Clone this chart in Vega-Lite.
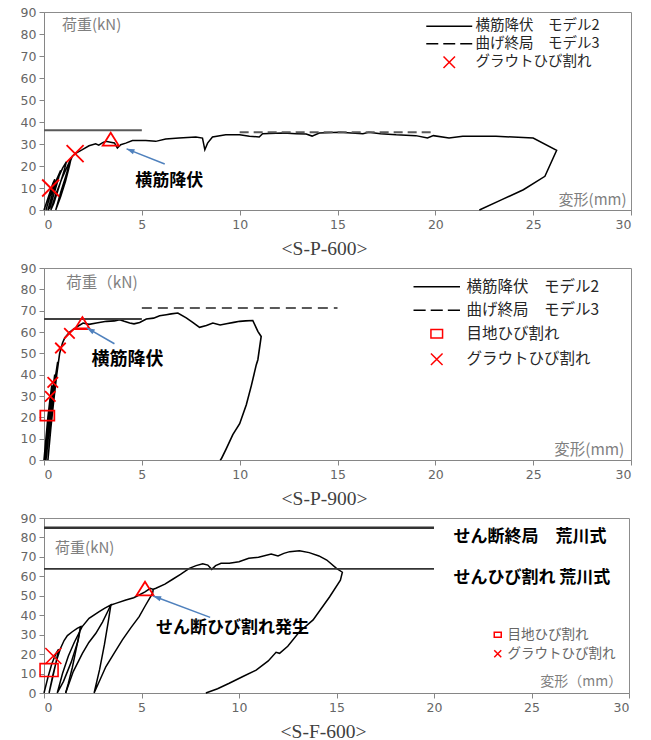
{
  "$schema": "https://vega.github.io/schema/vega-lite/v6.json",
  "background": "white",
  "padding": {"left": 19, "top": 5, "right": 5, "bottom": 0},
  "spacing": 2,
  "config": {
    "view": {"stroke": "#8c8c8c", "strokeWidth": 1},
    "axis": {"grid": false, "title": null, "labelFont": "DejaVu Sans", "labelFontSize": 12.5, "labelColor": "#666666", "domainColor": "#868686", "tickColor": "#868686", "tickSize": 5, "labelPadding": 3},
    "legend": {"orient": "none", "padding": 0, "title": null, "labelFont": "Noto Sans CJK JP", "labelColor": "#262626"},
    "title": {"font": "Liberation Serif", "fontSize": 19.5, "fontWeight": "normal", "color": "#404040", "orient": "bottom", "anchor": "middle", "dx": -13, "offset": 9}
  },
  "resolve": {"scale": {"x": "independent", "y": "independent", "color": "independent", "shape": "independent"}, "legend": {"color": "independent", "shape": "independent"}},
  "datasets": {
    "c1": [
      {"x":0,"y":0},{"x":0.15,"y":4},{"x":0.3,"y":8},{"x":0.45,"y":12},{"x":0.55,"y":14},{"x":0.4,"y":9},{"x":0.2,"y":3},{"x":0.1,"y":0},
      {"x":0.3,"y":6},{"x":0.5,"y":11},{"x":0.7,"y":15},{"x":0.85,"y":18},{"x":0.7,"y":13},{"x":0.5,"y":7},{"x":0.3,"y":1},{"x":0.2,"y":0},
      {"x":0.45,"y":8},{"x":0.7,"y":14},{"x":0.95,"y":19},{"x":1.15,"y":22},{"x":1.0,"y":17},{"x":0.75,"y":10},{"x":0.5,"y":3},{"x":0.35,"y":0},
      {"x":0.6,"y":7},{"x":0.9,"y":14},{"x":1.2,"y":20},{"x":1.4,"y":24},{"x":1.3,"y":20},{"x":1.1,"y":13},{"x":0.85,"y":6},{"x":0.6,"y":0},
      {"x":0.85,"y":8},{"x":1.1,"y":15},{"x":1.3,"y":21},{"x":1.45,"y":24.5},{"x":1.6,"y":25.6},{"x":1.96,"y":27.4},{"x":2.3,"y":29.2},{"x":2.64,"y":30.1},{"x":2.8,"y":29.5},{"x":3.0,"y":30.6},{"x":3.16,"y":31.2},{"x":3.4,"y":30.8},{"x":3.6,"y":30.5},{"x":3.75,"y":28.2},{"x":3.92,"y":29.7},{"x":4.18,"y":30.4},{"x":4.52,"y":31.6},{"x":5.2,"y":31.6},{"x":5.71,"y":31.2},{"x":6.22,"y":32.3},{"x":6.9,"y":32.7},{"x":7.76,"y":33.2},{"x":8.1,"y":32.7},{"x":8.22,"y":27.4},{"x":8.36,"y":30.4},{"x":8.61,"y":33.2},{"x":9.29,"y":34.2},{"x":10.0,"y":34.2},{"x":10.5,"y":33.5},{"x":11.0,"y":33.2},{"x":11.17,"y":34.7},{"x":12.2,"y":35},{"x":12.9,"y":34.7},{"x":13.4,"y":34.5},{"x":13.7,"y":33.6},{"x":14.07,"y":35},{"x":15.1,"y":35.3},{"x":16.3,"y":34.7},{"x":16.6,"y":35.3},{"x":17.2,"y":34.7},{"x":18.0,"y":34.2},{"x":19.0,"y":33.8},{"x":19.6,"y":32.7},{"x":19.9,"y":33.8},{"x":20.7,"y":32.7},{"x":21.4,"y":33.5},{"x":23.1,"y":33.5},{"x":25.0,"y":32.7},{"x":26.2,"y":27.1},{"x":25.6,"y":15.3},{"x":24.5,"y":9.2},{"x":23.4,"y":4.7},{"x":22.25,"y":0}
    ],
    "r1s": [{"x":0,"x2":5,"y":36.2}],
    "r1d": [{"x":10,"x2":19.8,"y":35.3}],
    "m1x": [{"x":0.34,"y":10,"series":"グラウトひび割れ"},{"x":1.59,"y":25.6,"series":"グラウトひび割れ"}],
    "t1tri": [{"x":3.41,"y":32}],
    "a1": [{"x":6.17,"y":20.9,"x2":4.22,"y2":27.8}],
    "h1": [{"x":4.22,"y":27.8}],
    "l1gray": [{"x":0.92,"y":84.2,"t":"荷重(kN)"}],
    "l1right": [{"x":29.77,"y":4.7,"t":"変形(mm)"}],
    "l1bold": [{"x":6.4,"y":13,"t":"横筋降伏"}],
    "c2": [
      {"x":0,"y":0},{"x":0.1,"y":10},{"x":0.2,"y":20},{"x":0.3,"y":28},{"x":0.4,"y":35},{"x":0.3,"y":28},{"x":0.15,"y":12},{"x":0.05,"y":0},
      {"x":0.15,"y":10},{"x":0.3,"y":22},{"x":0.45,"y":33},{"x":0.55,"y":40},{"x":0.45,"y":32},{"x":0.3,"y":18},{"x":0.15,"y":4},{"x":0.1,"y":0},
      {"x":0.25,"y":14},{"x":0.4,"y":26},{"x":0.55,"y":37},{"x":0.7,"y":46},{"x":0.6,"y":38},{"x":0.45,"y":25},{"x":0.3,"y":10},{"x":0.2,"y":0},
      {"x":0.35,"y":15},{"x":0.5,"y":28},{"x":0.65,"y":40},{"x":0.8,"y":50},{"x":0.95,"y":55},{"x":1.06,"y":57.2},{"x":1.3,"y":59.8},{"x":1.48,"y":61.1},{"x":1.75,"y":62.8},{"x":2.0,"y":64.2},{"x":2.3,"y":63.6},{"x":2.68,"y":64.2},{"x":3.19,"y":65},{"x":3.6,"y":65.2},{"x":3.87,"y":65.8},{"x":4.1,"y":65},{"x":4.38,"y":64.2},{"x":4.6,"y":63.8},{"x":4.89,"y":64.5},{"x":5.23,"y":66.1},{"x":5.6,"y":66.5},{"x":5.91,"y":67.6},{"x":6.25,"y":68.1},{"x":6.5,"y":68.5},{"x":6.84,"y":68.9},{"x":7.27,"y":66.6},{"x":7.6,"y":64.5},{"x":7.95,"y":62.2},{"x":8.3,"y":63},{"x":8.63,"y":64.2},{"x":9.0,"y":63.3},{"x":9.32,"y":63.9},{"x":9.7,"y":64.5},{"x":10.0,"y":65},{"x":10.3,"y":65.2},{"x":10.67,"y":65.4},{"x":10.93,"y":60.3},{"x":11.1,"y":57.9},{"x":10.93,"y":47},{"x":10.85,"y":44.7},{"x":10.6,"y":35},{"x":10.34,"y":25.9},{"x":10.0,"y":17},{"x":9.65,"y":11.9},{"x":9.3,"y":5},{"x":9.06,"y":0.5},{"x":9.0,"y":0}
    ],
    "r2s": [{"x":0,"x2":5,"y":66.1}],
    "r2d": [{"x":5,"x2":15,"y":71.3}],
    "r2red": [{"x":1.5,"x2":2.25,"y":61.3}],
    "m2x": [{"x":0.32,"y":29.8,"series":"グラウトひび割れ"},{"x":0.45,"y":36.4,"series":"グラウトひび割れ"},{"x":0.84,"y":52.5,"series":"グラウトひび割れ"},{"x":1.3,"y":59.4,"series":"グラウトひび割れ"}],
    "m2s": [{"x":0.17,"y":20.8,"series":"目地ひび割れ"}],
    "t2tri": [{"x":1.96,"y":64.2}],
    "a2": [{"x":3.6,"y":54.5,"x2":2.19,"y2":61.9}],
    "h2": [{"x":2.19,"y":61.9}],
    "l2gray": [{"x":1.14,"y":83,"t":"荷重（kN)"}],
    "l2right": [{"x":29.66,"y":4.8,"t":"変形(mm)"}],
    "l2bold": [{"x":4.27,"y":47,"t":"横筋降伏"}],
    "c3": [
      {"seg":"a","x":0,"y":0},{"seg":"a","x":0.2,"y":8},{"seg":"a","x":0.4,"y":15},{"seg":"a","x":0.6,"y":20},{"seg":"a","x":0.75,"y":22.5},{"seg":"a","x":0.6,"y":15},{"seg":"a","x":0.4,"y":6},{"seg":"a","x":0.26,"y":0},
      {"seg":"a","x":0.45,"y":9},{"seg":"a","x":0.65,"y":17},{"seg":"a","x":0.85,"y":23},{"seg":"a","x":1.03,"y":27},{"seg":"a","x":1.2,"y":29.5},{"seg":"a","x":1.45,"y":31.5},{"seg":"a","x":1.7,"y":33.2},{"seg":"a","x":1.88,"y":34.1},
      {"seg":"a","x":1.75,"y":27},{"seg":"a","x":1.4,"y":16},{"seg":"a","x":1.0,"y":6},{"seg":"a","x":0.68,"y":0},
      {"seg":"a","x":0.95,"y":10},{"seg":"a","x":1.25,"y":19},{"seg":"a","x":1.55,"y":26},{"seg":"a","x":1.8,"y":31},{"seg":"a","x":1.95,"y":34},{"seg":"a","x":2.31,"y":38.4},{"seg":"a","x":2.83,"y":41.8},{"seg":"a","x":3.1,"y":43.5},{"seg":"a","x":3.43,"y":45.3},
      {"seg":"a","x":3.3,"y":37},{"seg":"a","x":3.1,"y":25},{"seg":"a","x":2.85,"y":12},{"seg":"a","x":2.57,"y":0},
      {"seg":"a","x":3.17,"y":13.5},{"seg":"a","x":3.6,"y":20.5},{"seg":"a","x":4.02,"y":27.3},{"seg":"a","x":4.45,"y":33.5},{"seg":"a","x":4.88,"y":39.3},{"seg":"a","x":5.2,"y":45},{"seg":"a","x":5.57,"y":51.3},{"seg":"a","x":5.6,"y":53.3},{"seg":"a","x":5.74,"y":53.9},
      {"seg":"a","x":6.2,"y":56},{"seg":"a","x":6.6,"y":58.5},{"seg":"a","x":7.0,"y":61},{"seg":"a","x":7.45,"y":64.1},{"seg":"a","x":7.8,"y":65.5},{"seg":"a","x":8.14,"y":66.5},{"seg":"a","x":8.4,"y":65.8},{"seg":"a","x":8.6,"y":63.6},{"seg":"a","x":8.8,"y":65.5},{"seg":"a","x":9.08,"y":66.7},{"seg":"a","x":9.5,"y":66.7},{"seg":"a","x":10.0,"y":67.5},{"seg":"a","x":10.5,"y":69.3},{"seg":"a","x":11.0,"y":69.8},{"seg":"a","x":11.65,"y":71.5},{"seg":"a","x":12.0,"y":70.5},{"seg":"a","x":12.3,"y":71.8},{"seg":"a","x":12.6,"y":72.7},{"seg":"a","x":13.1,"y":73.2},{"seg":"a","x":13.6,"y":72.2},{"seg":"a","x":14.1,"y":70.5},{"seg":"a","x":14.5,"y":68.4},{"seg":"a","x":15.0,"y":64.1},{"seg":"a","x":15.3,"y":62.1},{"seg":"a","x":15.2,"y":58},{"seg":"a","x":14.65,"y":49.5},{"seg":"a","x":13.8,"y":37.6},{"seg":"a","x":13.1,"y":31.5},{"seg":"a","x":12.5,"y":24},{"seg":"a","x":12.08,"y":20.4},{"seg":"a","x":11.9,"y":20.9},{"seg":"a","x":11.5,"y":16.5},{"seg":"a","x":10.88,"y":11.8},{"seg":"a","x":10.2,"y":8.5},{"seg":"a","x":9.5,"y":5},{"seg":"a","x":8.9,"y":2.2},{"seg":"a","x":8.3,"y":0},
      {"seg":"b","x":1.11,"y":0},{"seg":"b","x":1.5,"y":11},{"seg":"b","x":1.97,"y":20.4},{"seg":"b","x":2.3,"y":26},{"seg":"b","x":2.66,"y":30.7},{"seg":"b","x":3.0,"y":36.5},{"seg":"b","x":3.26,"y":41.8},{"seg":"b","x":3.43,"y":45.3},
      {"seg":"c","x":1.88,"y":34.1},{"seg":"c","x":1.7,"y":25},{"seg":"c","x":1.45,"y":13},{"seg":"c","x":1.25,"y":5},{"seg":"c","x":1.11,"y":0},
      {"seg":"d","x":3.43,"y":45.3},{"seg":"d","x":3.68,"y":46.1},{"seg":"d","x":4.2,"y":47.8},{"seg":"d","x":4.6,"y":49},{"seg":"d","x":4.88,"y":50.4},{"seg":"d","x":5.18,"y":52},{"seg":"d","x":5.45,"y":53.8},{"seg":"d","x":5.6,"y":53.3}
    ],
    "r3a": [{"x":0,"x2":20,"y":85}],
    "r3b": [{"x":0,"x2":20,"y":63.8}],
    "m3x": [{"x":0.48,"y":19,"series":"グラウトひび割れ"}],
    "m3s": [{"x":0.26,"y":11.8,"series":"目地ひび割れ"}],
    "t3tri": [{"x":5.18,"y":53.5}],
    "a3": [{"x":8.52,"y":38.9,"x2":5.6,"y2":49.9}],
    "h3": [{"x":5.6,"y":49.9}],
    "l3gray": [{"x":0.57,"y":74.7,"t":"荷重(kN)"}],
    "l3right": [{"x":29.65,"y":5.5,"t":"変形（mm）"}],
    "l3bold": [{"x":5.74,"y":33.6,"t":"せん断ひび割れ発生"},{"x":21.0,"y":80.4,"t":"せん断終局　荒川式"},{"x":21.0,"y":59.3,"t":"せんひび割れ 荒川式"}]
  },
  "vconcat": [
    {
      "width": 587, "height": 198,
      "title": {"text": "<S-P-600>"},
      "encoding": {
        "x": {"field": "x", "type": "quantitative", "scale": {"domain": [0, 30], "nice": false}, "axis": {"values": [0,5,10,15,20,25,30], "labelOverlap": false}},
        "y": {"field": "y", "type": "quantitative", "scale": {"domain": [0, 90], "nice": false}, "axis": {"values": [0,10,20,30,40,50,60,70,80,90], "labelOverlap": false}}
      },
      "layer": [
        {"data": {"name": "c1"}, "mark": {"type": "line", "color": "#000000", "strokeWidth": 1.5},
         "encoding": {"order": {"value": null}}},
        {"data": {"name": "r1s"}, "mark": {"type": "rule", "color": "#595959", "strokeWidth": 2},
         "encoding": {"x2": {"field": "x2"}}},
        {"data": {"name": "r1d"}, "mark": {"type": "rule", "color": "#595959", "strokeWidth": 2, "strokeDash": [9, 5]},
         "encoding": {"x2": {"field": "x2"}}},
        {"data": {"name": "m1x"}, "mark": {"type": "point", "filled": false, "size": 289, "strokeWidth": 1.8, "opacity": 1},
         "encoding": {
                      "shape": {"field": "series", "type": "nominal", "scale": {"domain": ["横筋降伏　モデル2", "曲げ終局　モデル3", "グラウトひび割れ"], "range": ["M-4,0L4,0", "M-4,0L-1.91,0M-1.04,0L1.04,0M1.91,0L4,0", "M-1,-1L1,1M-1,1L1,-1"]},
                                "legend": {"legendX": 398, "legendY": 7, "labelFontSize": 14.5, "symbolSize": 132, "labelOffset": 19, "rowPadding": 2.5}},
                      "color": {"field": "series", "type": "nominal", "scale": {"domain": ["横筋降伏　モデル2", "曲げ終局　モデル3", "グラウトひび割れ"], "range": ["#000000", "#000000", "#ff0000"]},
                                "legend": {"legendX": 398, "legendY": 7, "labelFontSize": 14.5, "symbolSize": 132, "labelOffset": 19, "rowPadding": 2.5}}}},
        {"data": {"name": "t1tri"}, "mark": {"type": "point", "filled": false, "shape": "M0,-0.85L1,0.75L-1,0.75Z", "size": 256, "strokeWidth": 1.8, "color": "#ff0000", "opacity": 1}},
        {"data": {"name": "a1"}, "mark": {"type": "rule", "color": "#4f81bd", "strokeWidth": 1.5},
         "encoding": {"x2": {"field": "x2"}, "y2": {"field": "y2"}}},
        {"data": {"name": "h1"}, "mark": {"type": "point", "filled": true, "shape": "M0,0L0.6,1.8L-0.6,1.8Z", "size": 78, "angle": 292, "color": "#4f81bd", "opacity": 1}},
        {"data": {"name": "l1gray"}, "mark": {"type": "text", "align": "left", "baseline": "middle", "font": "Noto Sans CJK JP", "fontSize": 15, "color": "#7f7f7f"},
         "encoding": {"text": {"field": "t"}}},
        {"data": {"name": "l1right"}, "mark": {"type": "text", "align": "right", "baseline": "middle", "font": "Noto Sans CJK JP", "fontSize": 15, "color": "#7f7f7f"},
         "encoding": {"text": {"field": "t"}}},
        {"data": {"name": "l1bold"}, "mark": {"type": "text", "align": "center", "baseline": "middle", "font": "Noto Sans CJK JP", "fontSize": 17, "fontWeight": "bold", "color": "#000000"},
         "encoding": {"text": {"field": "t"}}}
      ]
    },
    {
      "width": 587, "height": 192,
      "title": {"text": "<S-P-900>"},
      "encoding": {
        "x": {"field": "x", "type": "quantitative", "scale": {"domain": [0, 30], "nice": false}, "axis": {"values": [0,5,10,15,20,25,30], "labelOverlap": false}},
        "y": {"field": "y", "type": "quantitative", "scale": {"domain": [0, 90], "nice": false}, "axis": {"values": [0,10,20,30,40,50,60,70,80,90], "labelOverlap": false}}
      },
      "layer": [
        {"data": {"name": "c2"}, "mark": {"type": "line", "color": "#000000", "strokeWidth": 1.6},
         "encoding": {"order": {"value": null}}},
        {"data": {"name": "r2s"}, "mark": {"type": "rule", "color": "#404040", "strokeWidth": 1.8},
         "encoding": {"x2": {"field": "x2"}}},
        {"data": {"name": "r2d"}, "mark": {"type": "rule", "color": "#595959", "strokeWidth": 2, "strokeDash": [10, 6]},
         "encoding": {"x2": {"field": "x2"}}},
        {"data": {"name": "r2red"}, "mark": {"type": "rule", "color": "#ff0000", "strokeWidth": 1.5},
         "encoding": {"x2": {"field": "x2"}}},
        {"data": {"name": "m2x"}, "mark": {"type": "point", "filled": false, "size": 110, "strokeWidth": 1.8, "opacity": 1},
         "encoding": {
                      "shape": {"field": "series", "type": "nominal", "scale": {"domain": ["横筋降伏　モデル2", "曲げ終局　モデル3", "目地ひび割れ", "グラウトひび割れ"], "range": ["M-4,0L4,0", "M-4,0L-1.91,0M-1.04,0L1.04,0M1.91,0L4,0", "M-1,-0.72L1,-0.72L1,0.72L-1,0.72Z", "M-1,-1L1,1M-1,1L1,-1"]},
                                "legend": {"legendX": 385, "legendY": 11, "labelFontSize": 15.5, "symbolSize": 135, "labelOffset": 22, "rowPadding": 6.5}},
                      "color": {"field": "series", "type": "nominal", "scale": {"domain": ["横筋降伏　モデル2", "曲げ終局　モデル3", "目地ひび割れ", "グラウトひび割れ"], "range": ["#000000", "#000000", "#ff0000", "#ff0000"]},
                                "legend": {"legendX": 385, "legendY": 11, "labelFontSize": 15.5, "symbolSize": 135, "labelOffset": 22, "rowPadding": 6.5}}}},
        {"data": {"name": "m2s"}, "mark": {"type": "point", "filled": false, "size": 196, "strokeWidth": 1.8, "opacity": 1},
         "encoding": {"shape": {"field": "series", "type": "nominal"}, "color": {"field": "series", "type": "nominal"}}},
        {"data": {"name": "t2tri"}, "mark": {"type": "point", "filled": false, "shape": "M0,-0.85L1,0.75L-1,0.75Z", "size": 196, "strokeWidth": 1.8, "color": "#ff0000", "opacity": 1}},
        {"data": {"name": "a2"}, "mark": {"type": "rule", "color": "#4f81bd", "strokeWidth": 1.5},
         "encoding": {"x2": {"field": "x2"}, "y2": {"field": "y2"}}},
        {"data": {"name": "h2"}, "mark": {"type": "point", "filled": true, "shape": "M0,0L0.6,1.8L-0.6,1.8Z", "size": 78, "angle": 299.5, "color": "#4f81bd", "opacity": 1}},
        {"data": {"name": "l2gray"}, "mark": {"type": "text", "align": "left", "baseline": "middle", "font": "Noto Sans CJK JP", "fontSize": 15.5, "color": "#7f7f7f"},
         "encoding": {"text": {"field": "t"}}},
        {"data": {"name": "l2right"}, "mark": {"type": "text", "align": "right", "baseline": "middle", "font": "Noto Sans CJK JP", "fontSize": 15.5, "color": "#7f7f7f"},
         "encoding": {"text": {"field": "t"}}},
        {"data": {"name": "l2bold"}, "mark": {"type": "text", "align": "center", "baseline": "middle", "font": "Noto Sans CJK JP", "fontSize": 18, "fontWeight": "bold", "color": "#000000"},
         "encoding": {"text": {"field": "t"}}}
      ]
    },
    {
      "width": 585, "height": 175,
      "title": {"text": "<S-F-600>"},
      "encoding": {
        "x": {"field": "x", "type": "quantitative", "scale": {"domain": [0, 30], "nice": false}, "axis": {"values": [0,5,10,15,20,25,30], "labelOverlap": false}},
        "y": {"field": "y", "type": "quantitative", "scale": {"domain": [0, 90], "nice": false}, "axis": {"values": [0,10,20,30,40,50,60,70,80,90], "labelOverlap": false}}
      },
      "layer": [
        {"data": {"name": "c3"}, "mark": {"type": "line", "color": "#000000", "strokeWidth": 1.5},
         "encoding": {"detail": {"field": "seg"}, "order": {"value": null}}},
        {"data": {"name": "r3a"}, "mark": {"type": "rule", "color": "#333333", "strokeWidth": 2.6},
         "encoding": {"x2": {"field": "x2"}}},
        {"data": {"name": "r3b"}, "mark": {"type": "rule", "color": "#333333", "strokeWidth": 1.8},
         "encoding": {"x2": {"field": "x2"}}},
        {"data": {"name": "m3x"}, "mark": {"type": "point", "filled": false, "size": 256, "strokeWidth": 1.6, "opacity": 1},
         "encoding": {
                      "shape": {"field": "series", "type": "nominal", "scale": {"domain": ["目地ひび割れ", "グラウトひび割れ"], "range": ["M-1,-0.72L1,-0.72L1,0.72L-1,0.72Z", "M-1,-1L1,1M-1,1L1,-1"]},
                                "legend": {"legendX": 447, "legendY": 110, "labelFontSize": 13.5, "symbolSize": 49, "labelOffset": 3, "rowPadding": 4, "labelColor": "#666666"}},
                      "color": {"field": "series", "type": "nominal", "scale": {"domain": ["目地ひび割れ", "グラウトひび割れ"], "range": ["#ff0000", "#ff0000"]},
                                "legend": {"legendX": 447, "legendY": 110, "labelFontSize": 13.5, "symbolSize": 49, "labelOffset": 3, "rowPadding": 4, "labelColor": "#666666"}}}},
        {"data": {"name": "m3s"}, "mark": {"type": "point", "filled": false, "size": 324, "strokeWidth": 1.6, "opacity": 1},
         "encoding": {"shape": {"field": "series", "type": "nominal"}, "color": {"field": "series", "type": "nominal"}}},
        {"data": {"name": "t3tri"}, "mark": {"type": "point", "filled": false, "shape": "M0,-0.85L1,0.75L-1,0.75Z", "size": 289, "strokeWidth": 1.8, "color": "#ff0000", "opacity": 1}},
        {"data": {"name": "a3"}, "mark": {"type": "rule", "color": "#4f81bd", "strokeWidth": 1.5},
         "encoding": {"x2": {"field": "x2"}, "y2": {"field": "y2"}}},
        {"data": {"name": "h3"}, "mark": {"type": "point", "filled": true, "shape": "M0,0L0.6,1.8L-0.6,1.8Z", "size": 78, "angle": 290.6, "color": "#4f81bd", "opacity": 1}},
        {"data": {"name": "l3gray"}, "mark": {"type": "text", "align": "left", "baseline": "middle", "font": "Noto Sans CJK JP", "fontSize": 15, "color": "#7f7f7f"},
         "encoding": {"text": {"field": "t"}}},
        {"data": {"name": "l3right"}, "mark": {"type": "text", "align": "right", "baseline": "middle", "font": "Noto Sans CJK JP", "fontSize": 14, "color": "#7f7f7f"},
         "encoding": {"text": {"field": "t"}}},
        {"data": {"name": "l3bold"}, "mark": {"type": "text", "align": "left", "baseline": "middle", "font": "Noto Sans CJK JP", "fontSize": 17, "fontWeight": "bold", "color": "#000000"},
         "encoding": {"text": {"field": "t"}}}
      ]
    }
  ]
}
